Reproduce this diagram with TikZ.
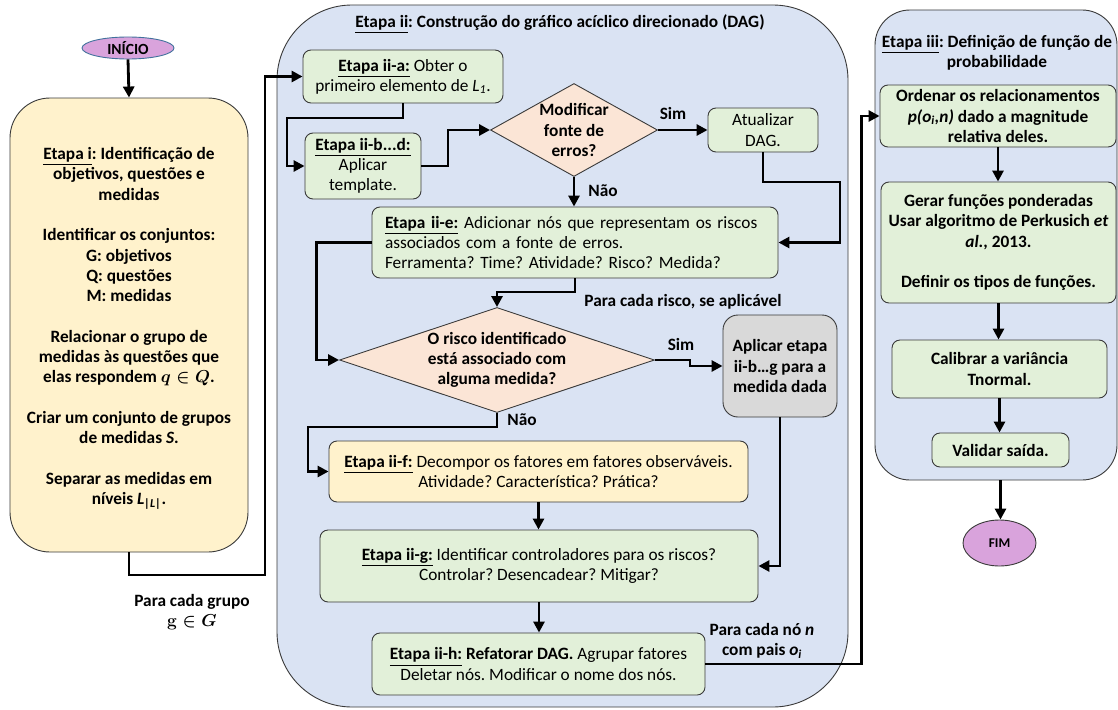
\documentclass[tikz,border=0pt]{standalone}
\usepackage{amsmath}
\usepackage{bm}
\usepackage{fontspec}
\setmainfont{Carlito}
\usetikzlibrary{arrows.meta,shapes.geometric}
\frenchspacing

\definecolor{boxgreen}{HTML}{E2F0D9}
\definecolor{boxyellow}{HTML}{FFF2CC}
\definecolor{panelblue}{HTML}{DAE3F3}
\definecolor{decpeach}{HTML}{FBE5D6}
\definecolor{boxgray}{HTML}{D9D9D9}
\definecolor{termviolet}{HTML}{D9A3DC}
\definecolor{edgegray}{HTML}{3A3A3A}
\definecolor{termblue}{HTML}{41719C}

\newcommand{\bodyfont}{\fontsize{17.3}{20.3}\selectfont}
\newcommand{\stagetag}[1]{\underline{\textbf{#1}}}

\tikzset{
  panel/.style={draw=edgegray, line width=0.9pt, fill=panelblue},
  stepbox/.style={draw=edgegray, line width=0.9pt, rounded corners=8pt,
    fill=boxgreen, align=center, inner sep=0pt, font=\bodyfont},
  decision/.style={diamond, draw=edgegray, line width=0.9pt, fill=decpeach,
    inner sep=0pt},
  dectext/.style={align=center, font=\bodyfont\bfseries, inner sep=0pt},
  terminal/.style={ellipse, fill=termviolet, line width=0.9pt, inner sep=0pt,
    font=\bfseries},
  flow/.style={line width=2.8pt, -{Triangle[length=11pt,width=11pt]}},
  tag/.style={font=\bodyfont\bfseries, align=center, inner sep=0pt},
}

\begin{document}
\begin{tikzpicture}[x=1pt, y=-1pt]
\useasboundingbox (0,0) rectangle (1118,709);

% ---------- stage containers ----------
\node[panel, rounded corners=75pt, minimum width=571pt, minimum height=702pt,
  inner sep=0pt] (panelii) at (562.5,356) {};
\node[tag] (titleii) at (560,24)
  {\underline{Etapa ii}: Construção do gráfico acíclico direcionado (DAG)};

\node[panel, rounded corners=35pt, minimum width=242pt, minimum height=470pt,
  inner sep=0pt] (paneliii) at (996,245) {};
\node[tag] (titleiii) at (997,53)
  {\underline{Etapa iii}: Definição de função de\\probabilidade};

% ---------- start and stage i ----------
\node[terminal, draw=termblue, minimum width=92pt, minimum height=22pt,
  font=\fontsize{15.5}{17}\selectfont\bfseries] (start) at (128,48) {INÍCIO};

\node[draw=edgegray, line width=0.9pt, fill=boxyellow, rounded corners=40pt,
  minimum width=238pt, minimum height=454pt, inner sep=0pt] (stagei)
  at (129,325) {};
\node[tag, font=\fontsize{17.3}{20.3}\selectfont\bfseries] (stageitext)
  at (129,328.5)
  {\underline{Etapa i}: Identificação de\\objetivos, questões e\\medidas\\[20.3pt]
   Identificar os conjuntos:\\G: objetivos\\Q: questões\\M: medidas\\[20.3pt]
   Relacionar o grupo de\\medidas às questões que\\elas respondem {\boldmath$\bm{q\in Q}$}.\\[20.3pt]
   Criar um conjunto de grupos\\de medidas \textit{S}.\\[20.3pt]
   Separar as medidas em\\níveis \textit{L\textsubscript{|L|}}.};

\node[tag] (lblgroup) at (192,612) {Para cada grupo\\{\boldmath$\mathbf{g}\in\bm{G}$}};

% ---------- stage ii ----------
\node[stepbox, minimum width=200pt, minimum height=53pt] (iia) at (403,76.5)
  {\stagetag{Etapa ii-a:} Obter o\\primeiro elemento de \textit{L\textsubscript{1}}.};
\node[stepbox, minimum width=116pt, minimum height=66pt] (iib) at (363,166)
  {\stagetag{Etapa ii-b...d:}\\Aplicar\\template.};

\node[decision, minimum width=167pt, minimum height=93pt] (d1) at (574,130) {};
\node[dectext] at (d1) {Modificar\\fonte de\\erros?};

\node[stepbox, minimum width=110pt, minimum height=44pt] (upd) at (763,130)
  {Atualizar\\DAG.};

\node[stepbox, minimum height=71pt, text width=380pt, inner xsep=13pt,
  align=left] (iie) at (575,242.5)
  {\stagetag{Etapa ii-e:} Adicionar nós que representam os riscos\\
   associados com a fonte de erros.\\
   Ferramenta? Time? Atividade? Risco? Medida?};

\node[tag] (lblrisk) at (683,302) {Para cada risco, se aplicável};

\node[decision, minimum width=315pt, minimum height=105pt] (d2) at (497,360) {};
\node[dectext] at (d2) {O risco identificado\\está associado com\\alguma medida?};

\node[stepbox, fill=boxgray, rounded corners=15pt, minimum width=114pt,
  minimum height=102pt, font=\bodyfont\bfseries] (grey) at (780,366)
  {Aplicar etapa\\ii-b…g para a\\medida dada};

\node[stepbox, fill=boxyellow, minimum width=419pt, minimum height=61pt]
  (iif) at (538.5,471.5)
  {\stagetag{Etapa ii-f:} Decompor os fatores em fatores observáveis.\\
   Atividade? Característica? Prática?};

\node[stepbox, minimum width=438pt, minimum height=72pt] (iig) at (539,566)
  {\stagetag{Etapa ii-g:} Identificar controladores para os riscos?\\
   Controlar? Desencadear? Mitigar?};

\node[stepbox, minimum width=333pt, minimum height=62pt] (iih) at (538.5,664)
  {\stagetag{Etapa ii-h:} \textbf{Refatorar DAG.} Agrupar fatores\\
   Deletar nós. Modificar o nome dos nós.};

\node[tag] (lblnode) at (762,641)
  {Para cada nó \textit{n}\\com pais \textit{o\textsubscript{i}}};

% ---------- stage iii ----------
\node[stepbox, minimum width=236pt, minimum height=62pt, font=\bodyfont\bfseries]
  (iii1) at (998,116)
  {Ordenar os relacionamentos\\\textit{p(o\textsubscript{i},n)} dado a magnitude\\relativa deles.};
\node[stepbox, minimum width=235pt, minimum height=121pt, font=\bodyfont\bfseries]
  (iii2) at (998.5,242.5)
  {Gerar funções ponderadas\\Usar algoritmo de Perkusich \textit{et}\\
   \textit{al.}, 2013.\\[20.3pt]Definir os tipos de funções.};
\node[stepbox, minimum width=215pt, minimum height=58pt, font=\bodyfont\bfseries]
  (iii3) at (999.5,369) {Calibrar a variância\\Tnormal.};
\node[stepbox, minimum width=137pt, minimum height=34pt, font=\bodyfont\bfseries]
  (iii4) at (1000.5,450) {Validar saída.};

\node[terminal, draw=edgegray, minimum width=73pt, minimum height=46pt,
  font=\fontsize{13.4}{15}\selectfont\bfseries] (fim) at (999.5,543) {FIM};

% ---------- connectors ----------
\draw[flow] (start.south) -- (stagei.north);
\coordinate (loopA) at (265,575);
\draw[flow] (stagei.south) |- (loopA) |- (iia.west);

\coordinate (jogAB) at (287,118);
\draw[flow] (iia.south) |- (jogAB) |- (iib.west);

\coordinate (jogBD) at (448,130);
\draw[flow] (iib.east) -| (jogBD) -- (d1.west);

\draw[flow] (d1.east) -- (upd.west);
\node[tag] at (673,113) {Sim};

\draw[flow] (d1.south) -- (d1.south |- iie.north);
\node[tag] at (603,191) {Não};

\coordinate (jogU) at (840,182);
\draw[flow] (upd.south) |- (jogU) |- (iie.east);

\coordinate (jogE) at (497,292);
\draw[flow] (iie.south) |- (jogE) -- (d2.north);

\draw[flow] (iie.west) -- ++(-55,0) |- (d2.west);

\draw[flow] (d2.east) -- ++(35,0) |- (grey.west);
\node[tag] at (681,344) {Sim};

\draw[flow] (grey.south) |- (iig.east);

\draw[flow] (d2.south) |- ++(-189,14) |- (iif.west);
\node[tag] at (522,420) {Não};

\draw[flow] (iif.south) -- (iif.south |- iig.north);
\draw[flow] (iig.south) -- (iig.south |- iih.north);

\draw[flow] (iih.east) -- ++(156,0) |- (iii1.west);

\draw[flow] (iii1.south) -- (iii1.south |- iii2.north);
\draw[flow] (iii2.south) -- (iii2.south |- iii3.north);
\draw[flow] (iii3.south) -- (iii3.south |- iii4.north);
\draw[flow] (iii4.south |- paneliii.south) -- (iii4.south |- fim.north);

\end{tikzpicture}
\end{document}
